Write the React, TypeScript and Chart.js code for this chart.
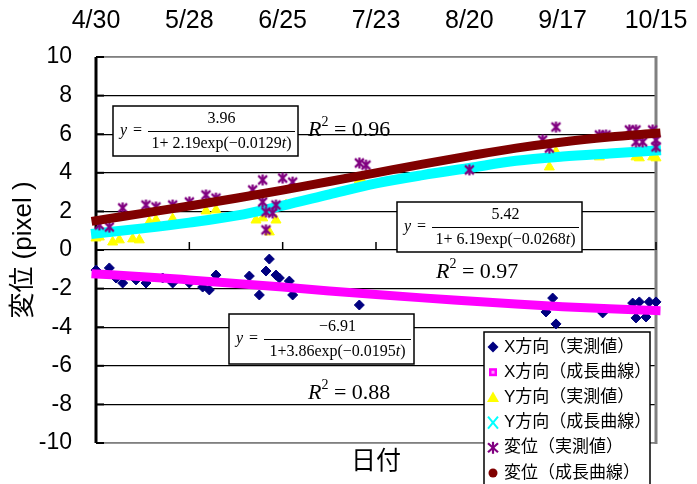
import React, { useEffect, useRef } from 'react';
import { Chart, registerables } from 'chart.js';

Chart.register(...registerables);

// ---------- data ----------
const dateLabels = ['4/30', '5/28', '6/25', '7/23', '8/20', '9/17', '10/15'];
const dateTickDays = [0, 28, 56, 84, 112, 140, 168];

const curveDays = [0, 14, 28, 42, 56, 70, 84, 98, 112, 126, 140, 154, 168];
const xGrowth = [-1.24, -1.38, -1.55, -1.73, -1.92, -2.12, -2.31, -2.48, -2.64, -2.8, -2.94, -3.05, -3.14];
const yGrowth = [0.86, 1.12, 1.42, 1.78, 2.3, 2.88, 3.45, 3.88, 4.25, 4.62, 4.84, 5.0, 5.15];
const dispGrowth = [1.52, 1.9, 2.28, 2.68, 3.1, 3.55, 4.0, 4.45, 4.88, 5.28, 5.6, 5.85, 6.05];

const xMeasDays = [0, 4, 6, 8, 12, 15, 20, 23, 28, 32, 34, 36, 46, 49, 52, 51, 54, 55, 58, 59, 79, 135, 137, 138, 152, 161, 162, 163, 165, 166, 168];
const xMeasVals = [-1.04, -0.93, -1.45, -1.71, -1.55, -1.71, -1.45, -1.71, -1.71, -1.92, -2.07, -1.3, -1.35, -2.33, -0.47, -1.09, -1.3, -1.45, -1.61, -2.33, -2.85, -3.21, -2.49, -3.83, -3.26, -2.75, -3.52, -2.69, -3.47, -2.69, -2.69];

const yMeasDays = [0, 1, 5, 7, 11, 13, 16, 18, 23, 33, 36, 48, 50, 52, 54, 57, 79, 80, 136, 138, 151, 162, 163, 167, 168];
const yMeasVals = [0.62, 0.67, 0.41, 0.52, 0.57, 0.52, 1.45, 1.55, 1.61, 2.02, 2.07, 1.55, 1.66, 0.93, 1.55, 2.33, 3.63, 3.52, 4.3, 5.08, 4.82, 4.82, 4.77, 4.82, 4.77];

const dMeasDays = [1, 4, 8, 15, 18, 23, 28, 33, 36, 47, 50, 50, 51, 51, 53, 54, 56, 59, 79, 81, 112, 134, 136, 138, 151, 153, 160, 162, 162, 164, 167, 168, 168];
const dMeasVals = [1.3, 1.19, 2.18, 2.33, 2.23, 2.33, 2.49, 2.85, 2.69, 3.11, 3.63, 2.49, 1.97, 1.04, 1.92, 2.33, 3.73, 3.52, 4.51, 4.4, 4.15, 5.7, 5.28, 6.37, 5.96, 5.96, 6.22, 5.6, 6.22, 5.6, 6.22, 5.7, 5.34];

const legendLabels = ['X方向（実測値）', 'X方向（成長曲線）', 'Y方向（実測値）', 'Y方向（成長曲線）', '変位（実測値）', '変位（成長曲線）'];
const formulaNumerators = ['3.96', '5.42', '−6.91'];
const formulaDenominators = ['1+ 2.19exp(−0.0129', '1+ 6.19exp(−0.0268', '1+3.86exp(−0.0195'];
const rSquaredValues = ['0.96', '0.97', '0.88'];

const yAxisTitle = '変位 (pixel )';
const xAxisTitle = '日付';

// ---------- styles ----------
const NAVY = '#000080';
const MAGENTA = '#FF00FF';
const YELLOW = '#FFFF00';
const CYAN = '#00FFFF';
const PURPLE = '#800080';
const BROWN = '#800000';
const SANS = '"Liberation Sans", "Noto Sans CJK JP", Arial, sans-serif';
const SERIF = '"Liberation Serif", "Times New Roman", serif';

// formula box placement (pixels relative to chart area left/top)
const formulaBoxes = [
  { dx: 17, dy: 49 },
  { dx: 301, dy: 145 },
  { dx: 133, dy: 257 },
];
const rSquaredPos = [
  { dx: 212, dy: 73 },
  { dx: 340, dy: 215 },
  { dx: 212, dy: 336 },
];

function makeAsterisk(color: string, size: number, lw: number) {
  const c = document.createElement('canvas');
  c.width = size;
  c.height = size;
  const g = c.getContext('2d')!;
  g.strokeStyle = color;
  g.lineWidth = lw;
  const m = size / 2;
  const r = size / 2 - 1;
  g.beginPath();
  g.moveTo(m, m - r);
  g.lineTo(m, m + r);
  const d = r * 0.8;
  g.moveTo(m - d, m - d);
  g.lineTo(m + d, m + d);
  g.moveTo(m + d, m - d);
  g.lineTo(m - d, m + d);
  g.stroke();
  return c;
}

function seg(ctx: CanvasRenderingContext2D, x1: number, y1: number, x2: number, y2: number) {
  ctx.beginPath();
  ctx.moveTo(x1, y1);
  ctx.lineTo(x2, y2);
  ctx.stroke();
}

function drawFormula(ctx: CanvasRenderingContext2D, left: number, top: number, num: string, den: string) {
  const w = 185;
  const h = 50;
  ctx.fillStyle = '#fff';
  ctx.fillRect(left, top, w, h);
  ctx.strokeStyle = '#000';
  ctx.lineWidth = 1.5;
  ctx.strokeRect(left, top, w, h);
  ctx.fillStyle = '#000';
  ctx.textBaseline = 'middle';
  ctx.textAlign = 'left';
  ctx.font = `italic 16px ${SERIF}`;
  ctx.fillText('y', left + 7, top + 25);
  ctx.font = `16px ${SERIF}`;
  ctx.fillText('=', left + 20, top + 25);
  const fx0 = left + 35;
  const fx1 = left + 182;
  ctx.lineWidth = 1;
  seg(ctx, fx0, top + 25.5, fx1, top + 25.5);
  const cx = (fx0 + fx1) / 2;
  ctx.textAlign = 'center';
  ctx.font = `16px ${SERIF}`;
  ctx.fillText(num, cx, top + 13);
  // denominator with italic t
  ctx.font = `16px ${SERIF}`;
  const w1 = ctx.measureText(den).width;
  ctx.font = `italic 16px ${SERIF}`;
  const w2 = ctx.measureText('t').width;
  ctx.font = `16px ${SERIF}`;
  const w3 = ctx.measureText(')').width;
  let x = cx - (w1 + w2 + w3) / 2;
  ctx.textAlign = 'left';
  ctx.fillText(den, x, top + 38);
  x += w1;
  ctx.font = `italic 16px ${SERIF}`;
  ctx.fillText('t', x, top + 38);
  x += w2;
  ctx.font = `16px ${SERIF}`;
  ctx.fillText(')', x, top + 38);
}

function drawR2(ctx: CanvasRenderingContext2D, x: number, y: number, val: string) {
  ctx.fillStyle = '#000';
  ctx.textBaseline = 'middle';
  ctx.textAlign = 'left';
  ctx.font = `italic 22px ${SERIF}`;
  ctx.fillText('R', x, y);
  const wr = ctx.measureText('R').width;
  ctx.font = `14px ${SERIF}`;
  ctx.fillText('2', x + wr, y - 8);
  const w2 = ctx.measureText('2').width;
  ctx.font = `22px ${SERIF}`;
  ctx.fillText(' = ' + val, x + wr + w2, y);
}

function drawLegendMarker(ctx: CanvasRenderingContext2D, i: number, cx: number, cy: number) {
  ctx.save();
  if (i === 0) {
    ctx.fillStyle = NAVY;
    ctx.beginPath();
    ctx.moveTo(cx, cy - 5.5);
    ctx.lineTo(cx + 5.5, cy);
    ctx.lineTo(cx, cy + 5.5);
    ctx.lineTo(cx - 5.5, cy);
    ctx.closePath();
    ctx.fill();
  } else if (i === 1) {
    ctx.fillStyle = MAGENTA;
    ctx.fillRect(cx - 4, cy - 4, 8, 8);
    ctx.fillStyle = '#ff99ff';
    ctx.fillRect(cx - 1.5, cy - 1.5, 3, 3);
  } else if (i === 2) {
    ctx.fillStyle = YELLOW;
    ctx.beginPath();
    ctx.moveTo(cx, cy - 6);
    ctx.lineTo(cx + 6, cy + 4.5);
    ctx.lineTo(cx - 6, cy + 4.5);
    ctx.closePath();
    ctx.fill();
  } else if (i === 3) {
    ctx.strokeStyle = CYAN;
    ctx.lineWidth = 2;
    seg(ctx, cx - 5, cy - 6, cx + 5, cy + 6);
    seg(ctx, cx + 5, cy - 6, cx - 5, cy + 6);
  } else if (i === 4) {
    ctx.strokeStyle = PURPLE;
    ctx.lineWidth = 2.2;
    seg(ctx, cx, cy - 6, cx, cy + 6);
    seg(ctx, cx - 5, cy - 4.5, cx + 5, cy + 4.5);
    seg(ctx, cx + 5, cy - 4.5, cx - 5, cy + 4.5);
  } else {
    ctx.fillStyle = BROWN;
    ctx.beginPath();
    ctx.arc(cx, cy, 4.5, 0, Math.PI * 2);
    ctx.fill();
  }
  ctx.restore();
}

const overlayPlugin = {
  id: 'overlay',
  beforeDatasetsDraw(chart: any) {
    const { ctx, chartArea: a, scales } = chart;
    const xs = scales.x;
    const ys = scales.y;
    ctx.save();
    // frame
    ctx.strokeStyle = '#808080';
    ctx.lineWidth = 1.5;
    seg(ctx, a.left, a.top, a.right, a.top);
    seg(ctx, a.left, a.bottom, a.right, a.bottom);
    ctx.lineWidth = 3;
    seg(ctx, a.right, a.top - 1, a.right, a.bottom + 1);
    ctx.strokeStyle = '#000';
    ctx.lineWidth = 3;
    seg(ctx, a.left, a.top, a.left, a.bottom);
    // y tick marks
    ctx.lineWidth = 2;
    for (let v = -10; v <= 10; v += 2) {
      const y = ys.getPixelForValue(v);
      seg(ctx, a.left, y, a.left + 8, y);
    }
    // x tick marks on the zero line
    const y0 = ys.getPixelForValue(0);
    ctx.lineWidth = 1.5;
    dateTickDays.forEach((d) => {
      const x = xs.getPixelForValue(d);
      seg(ctx, x, y0, x, y0 - 8);
    });
    // formula boxes and R^2
    formulaBoxes.forEach((b, i) => {
      drawFormula(ctx, a.left + b.dx, a.top + b.dy, formulaNumerators[i], formulaDenominators[i]);
    });
    rSquaredPos.forEach((p, i) => {
      drawR2(ctx, a.left + p.dx, a.top + p.dy, rSquaredValues[i]);
    });
    ctx.restore();
  },
  afterDraw(chart: any) {
    const { ctx, chartArea: a } = chart;
    ctx.save();
    const lx = a.right - 172;
    const ly = a.top + 275;
    const lw = 166;
    const lh = 165;
    ctx.fillStyle = '#fff';
    ctx.fillRect(lx, ly, lw, lh);
    ctx.strokeStyle = '#000';
    ctx.lineWidth = 1.5;
    ctx.strokeRect(lx, ly, lw, lh);
    ctx.font = `17px ${SANS}`;
    ctx.textBaseline = 'middle';
    ctx.textAlign = 'left';
    legendLabels.forEach((t, i) => {
      const cy = ly + 15 + i * 25.2;
      drawLegendMarker(ctx, i, lx + 9, cy);
      ctx.fillStyle = '#000';
      ctx.fillText(t, lx + 20, cy);
    });
    ctx.restore();
  },
};

export default function App() {
  const ref = useRef<HTMLCanvasElement>(null);
  useEffect(() => {
    const canvas = ref.current!;
    const asterisk = makeAsterisk(PURPLE, 13, 2.2);
    const pts = (days: number[], vals: number[]) => days.map((d, i) => ({ x: d, y: vals[i] }));
    const chart = new Chart(canvas, {
      type: 'scatter',
      data: {
        datasets: [
          {
            label: legendLabels[0],
            data: pts(xMeasDays, xMeasVals),
            pointStyle: 'rectRot',
            pointRadius: 5,
            backgroundColor: NAVY,
            borderColor: NAVY,
            borderWidth: 1,
            order: 6,
            clip: false,
          },
          {
            label: legendLabels[1],
            data: pts(curveDays, xGrowth),
            showLine: true,
            borderColor: MAGENTA,
            backgroundColor: MAGENTA,
            borderWidth: 9,
            pointRadius: 0,
            cubicInterpolationMode: 'monotone',
            borderCapStyle: 'square',
            order: 5,
            clip: false,
          },
          {
            label: legendLabels[2],
            data: pts(yMeasDays, yMeasVals),
            pointStyle: 'triangle',
            pointRadius: 5.8,
            backgroundColor: YELLOW,
            borderColor: YELLOW,
            borderWidth: 1,
            order: 4,
            clip: false,
          },
          {
            label: legendLabels[3],
            data: pts(curveDays, yGrowth),
            showLine: true,
            borderColor: CYAN,
            backgroundColor: CYAN,
            borderWidth: 10,
            pointRadius: 0,
            cubicInterpolationMode: 'monotone',
            borderCapStyle: 'square',
            order: 3,
            clip: false,
          },
          {
            label: legendLabels[4],
            data: pts(dMeasDays, dMeasVals),
            pointStyle: asterisk,
            pointRadius: 6,
            backgroundColor: PURPLE,
            borderColor: PURPLE,
            order: 2,
            clip: false,
          },
          {
            label: legendLabels[5],
            data: pts(curveDays, dispGrowth),
            showLine: true,
            borderColor: BROWN,
            backgroundColor: BROWN,
            borderWidth: 9,
            pointRadius: 0,
            cubicInterpolationMode: 'monotone',
            borderCapStyle: 'square',
            order: 1,
            clip: false,
          },
        ] as any,
      },
      options: {
        animation: false,
        responsive: false,
        devicePixelRatio: 1,
        layout: { padding: 0 },
        plugins: {
          legend: { display: false },
          tooltip: { enabled: false },
        },
        scales: {
          x: {
            type: 'linear',
            position: 'top',
            min: 0,
            max: 168,
            afterBuildTicks: (s: any) => {
              s.ticks = dateTickDays.map((v) => ({ value: v }));
            },
            afterFit: (s: any) => {
              s.height = 57;
              s.paddingLeft = 0;
              s.paddingRight = 0;
            },
            ticks: {
              autoSkip: false,
              maxRotation: 0,
              minRotation: 0,
              padding: 21,
              color: '#000',
              font: { family: SANS, size: 25 },
              callback: (v: any) => {
                const i = dateTickDays.indexOf(Number(v));
                return i >= 0 ? dateLabels[i] : '';
              },
            },
            grid: { display: false, drawTicks: false },
            border: { display: false },
          },
          x2: {
            type: 'linear',
            position: 'bottom',
            min: 0,
            max: 168,
            afterFit: (s: any) => {
              s.height = 41;
              s.paddingLeft = 0;
              s.paddingRight = 0;
            },
            ticks: { display: false },
            grid: { display: false, drawTicks: false },
            border: { display: false },
            title: {
              display: true,
              text: xAxisTitle,
              color: '#000',
              font: { family: SANS, size: 25 },
              padding: { top: 0, bottom: 7 },
            },
          },
          y: {
            type: 'linear',
            position: 'left',
            min: -10,
            max: 10,
            afterFit: (s: any) => {
              s.width = 96;
              s.paddingTop = 0;
              s.paddingBottom = 0;
            },
            ticks: {
              stepSize: 2,
              padding: 24,
              color: '#000',
              font: { family: SANS, size: 23 },
            },
            grid: {
              drawTicks: false,
              lineWidth: 1.3,
              color: (c: any) =>
                c.tick && (c.tick.value === 10 || c.tick.value === -10) ? '#808080' : '#000',
            },
            border: { display: false },
            title: {
              display: true,
              text: yAxisTitle,
              color: '#000',
              font: { family: SANS, size: 26 },
              padding: { top: 8, bottom: 0 },
            },
          },
          yRight: {
            type: 'linear',
            position: 'right',
            min: -10,
            max: 10,
            afterFit: (s: any) => {
              s.width = 41;
              s.paddingTop = 0;
              s.paddingBottom = 0;
            },
            ticks: { display: false },
            grid: { display: false, drawTicks: false },
            border: { display: false },
          },
        },
      } as any,
      plugins: [overlayPlugin],
    });
    return () => chart.destroy();
  }, []);
  return (
    <div style={{ position: 'fixed', left: 0, top: 0, width: 697, height: 484, background: '#fff' }}>
      <canvas ref={ref} width={697} height={484} style={{ display: 'block', width: 697, height: 484 }} />
    </div>
  );
}
